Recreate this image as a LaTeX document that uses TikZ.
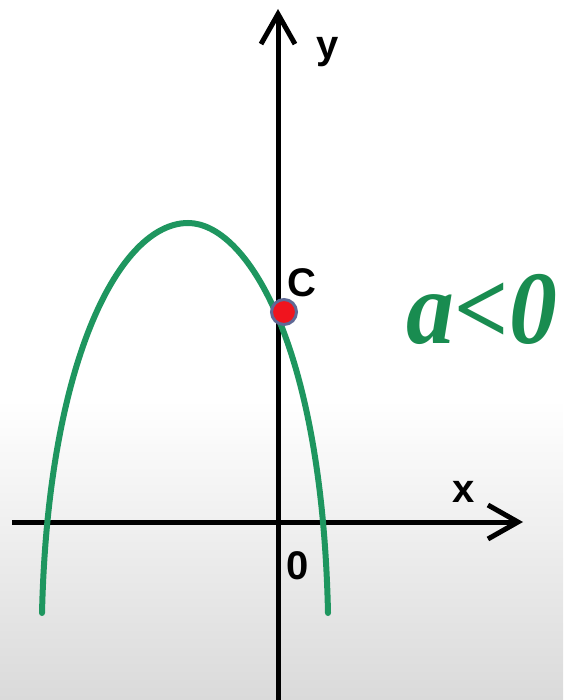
\documentclass[tikz,border=0pt]{standalone}
\usepackage{fontspec}
\setmainfont{Liberation Sans}
\newfontfamily\wordart{Liberation Serif}
\usetikzlibrary{arrows.meta}
\definecolor{curvegreen}{RGB}{30,150,95}
\definecolor{textgreen}{RGB}{25,140,80}
\definecolor{ptred}{RGB}{240,20,30}
\definecolor{ptborder}{RGB}{95,105,150}
\definecolor{bggray}{RGB}{218,218,218}
\tikzset{
  axis/.style={line width=5pt, -{Straight Barb[length=30pt,width=34pt]}},
  curve/.style={curvegreen, line width=6pt, line cap=round},
  lbl/.style={font=\fontsize{40}{40}\selectfont\bfseries, inner sep=0pt},
  dotc/.style={circle, fill=ptred, draw=ptborder, line width=3pt, minimum size=25pt, inner sep=0pt},
  biglabel/.style={font=\wordart\fontsize{104}{104}\selectfont\bfseries\itshape, inner sep=0pt, xscale=0.92}
}
\begin{document}
\begin{tikzpicture}[x=1pt,y=-1pt]
\useasboundingbox (0,0) rectangle (563,700);
\fill[white] (0,0) rectangle (563,400);
\shade[top color=white, bottom color=bggray] (0,399) rectangle (563,700);
% axes
\coordinate (xs) at (12,522);
\coordinate (xe) at (523,522);
\coordinate (ys) at (278,700);
\coordinate (ye) at (278,9);
\draw[axis] (xs) -- (xe);
\draw[axis] (ys) -- (ye);
% parabola
\coordinate (lend) at (42,613);
\coordinate (vtx) at (188,223);
\coordinate (rend) at (328,613);
\draw[curve] (lend) .. controls (48,360) and (120,223) .. (vtx)
  .. controls (245,223) and (322,340) .. (rend);
% point C
\node[dotc] (c) at (284,312) {};
% labels
\node[lbl] (ylab) at (328,52) {y};
\node[lbl] (xlab) at (464,492) {x};
\node[lbl] (olab) at (298,566) {0};
\node[lbl] (clab) at (302,283) {C};
\node[biglabel, text=textgreen] (alab) at (482,309) {a<0};
\end{tikzpicture}
\end{document}
